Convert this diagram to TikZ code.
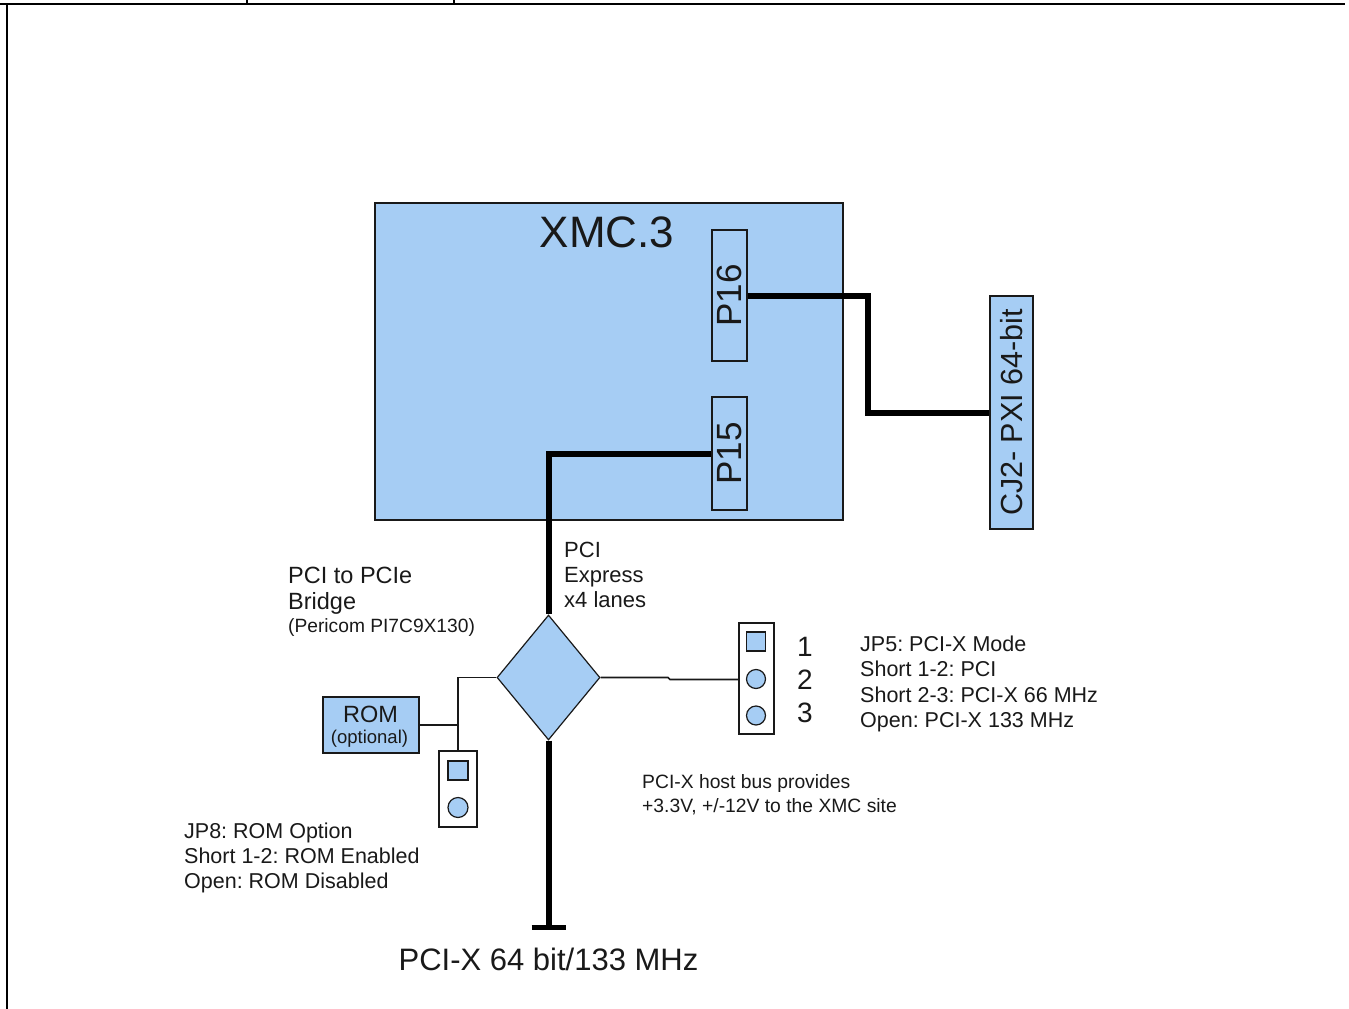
\documentclass[tikz,border=0pt]{standalone}
\usepackage{fontspec}
\setmainfont{Liberation Sans}
\usetikzlibrary{shapes.geometric}
\definecolor{lblue}{RGB}{166,205,244}
\definecolor{ink}{RGB}{25,25,25}
\frenchspacing
\begin{document}
\begin{tikzpicture}[x=1pt,y=-1pt,
  box/.style={draw=ink,fill=lblue,line width=1.2pt,inner sep=0pt,text=ink},
  wbox/.style={draw=ink,fill=white,line width=1.4pt,inner sep=0pt},
  bus/.style={line width=6pt,line join=miter},
  wire/.style={line width=1.6pt,draw=ink},
  lbl/.style={inner sep=0pt,anchor=base west,text=ink,execute at begin node=\frenchspacing},
  frame/.style={line width=1.5pt}]
\useasboundingbox (0,0) rectangle (1349,1009);
% frame
\draw[frame] (0,4) -- (1345,4);
\draw[frame] (7,4) -- (7,1009);
\draw[frame] (247,0) -- (247,4);
\draw[frame] (454,0) -- (454,4);
% XMC board
\node[box,minimum width=468,minimum height=317] (xmc) at (609,361.5) {};
\node[lbl,anchor=base] (xmct) at (607,247) {\fontsize{44}{50}\selectfont XMC.3};
\node[box,minimum width=35,minimum height=131] (p16) at (729.5,295.5) {\fontsize{35}{40}\selectfont\rotatebox{90}{P16}};
\node[box,minimum width=35,minimum height=113] (p15) at (729.5,453.5) {\fontsize{35}{40}\selectfont\rotatebox{90}{P15}};
\node[box,minimum width=43,minimum height=233] (cj2) at (1011.5,412.5) {\fontsize{30.5}{34}\selectfont\rotatebox{90}{CJ2- PXI 64-bit}};
% bridge
\node[box,diamond,minimum width=103,minimum height=125] (dia) at (548.5,677.5) {};
% ROM
\node[box,minimum width=96,minimum height=56] (rom) at (371,725) {};
\node[lbl,anchor=base] (romt) at (370.5,722) {\fontsize{23.5}{26}\selectfont ROM};
\node[lbl,anchor=base] (romo) at (369.5,743) {\fontsize{18.5}{22}\selectfont (optional)};
% JP8 jumper
\node[wbox,minimum width=38,minimum height=76] (jp8) at (458,789) {};
\node[box,minimum width=20,minimum height=19] (jp8a) at (458,770.5) {};
\node[box,circle,minimum size=20] (jp8b) at (458,807.5) {};
% JP5 jumper
\node[wbox,minimum width=35,minimum height=111] (jp5) at (756.5,678.5) {};
\node[box,minimum width=19,minimum height=19] (jp5a) at (756,641.5) {};
\node[box,circle,minimum size=19] (jp5b) at (756,679) {};
\node[box,circle,minimum size=19] (jp5c) at (756,715.5) {};
% connectors
\draw[bus] (p16.east) -- (868,295.5) |- (cj2.west);
\draw[bus] (p15.west) -| (dia.north);
\coordinate (pend) at (548.5,927);
\draw[bus] (dia.south) -- (pend);
\draw[line width=5pt] ([xshift=-17pt]pend) -- ([xshift=17pt]pend);
\draw[wire] (dia.west) -| (jp8.north);
\draw[wire] (rom.east) -- (rom.east -| jp8.north);
\draw[wire] (dia.east) -- (668,677.5) -- (670,679.5) -- (jp5.west |- 0,679.5);
% pin numbers
\node[lbl,anchor=base] (n1) at (805,656) {\fontsize{28}{30}\selectfont 1};
\node[lbl,anchor=base] (n2) at (805,689) {\fontsize{28}{30}\selectfont 2};
\node[lbl,anchor=base] (n3) at (805,722) {\fontsize{28}{30}\selectfont 3};
% JP5 text
\node[lbl] (jp5t1) at (860,651) {\fontsize{21.5}{25}\selectfont JP5: PCI-X Mode};
\node[lbl] (jp5t2) at (860,676.5) {\fontsize{21.5}{25}\selectfont Short 1-2: PCI};
\node[lbl] (jp5t3) at (860,702) {\fontsize{21.5}{25}\selectfont Short 2-3: PCI-X 66 MHz};
\node[lbl] (jp5t4) at (860,727) {\fontsize{21.5}{25}\selectfont Open: PCI-X 133 MHz};
% host bus text
\node[lbl] (hb1) at (642,788) {\fontsize{19.3}{23}\selectfont PCI-X host bus provides};
\node[lbl] (hb2) at (642,812) {\fontsize{19.3}{23}\selectfont +3.3V, +/-12V to the XMC site};
% JP8 text
\node[lbl] (jp8t1) at (184,838) {\fontsize{21.5}{25}\selectfont JP8: ROM Option};
\node[lbl] (jp8t2) at (184,863) {\fontsize{21.5}{25}\selectfont Short 1-2: ROM Enabled};
\node[lbl] (jp8t3) at (184,888) {\fontsize{21.5}{25}\selectfont Open: ROM Disabled};
% bridge text
\node[lbl] (br1) at (288,583) {\fontsize{23.5}{28}\selectfont PCI to PCIe};
\node[lbl] (br2) at (288,609) {\fontsize{23.5}{28}\selectfont Bridge};
\node[lbl] (br3) at (288,632) {\fontsize{19.2}{22}\selectfont (Pericom PI7C9X130)};
% PCI Express text
\node[lbl] (pe1) at (564,557) {\fontsize{22}{25}\selectfont PCI};
\node[lbl] (pe2) at (564,582) {\fontsize{22}{25}\selectfont Express};
\node[lbl] (pe3) at (564,607) {\fontsize{22}{25}\selectfont x4 lanes};
% bus label
\node[lbl,anchor=base] (busl) at (548.5,970) {\fontsize{31}{34}\selectfont PCI-X 64 bit/133 MHz};
\end{tikzpicture}
\end{document}
